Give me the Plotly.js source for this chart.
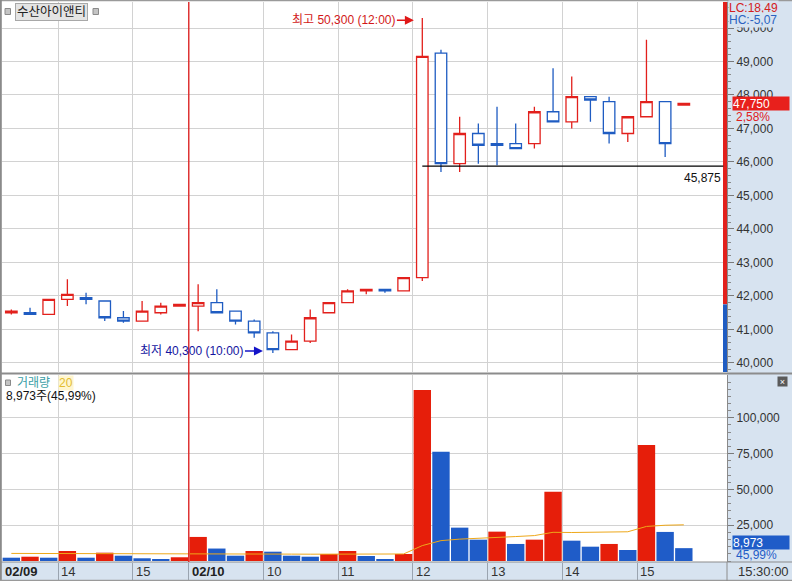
<!DOCTYPE html>
<html><head><meta charset="utf-8">
<script src="https://cdn.plot.ly/plotly-3.0.1.min.js"></script>
<style>html,body{margin:0;padding:0;background:#fff}#chart{width:792px;height:581px}</style>
</head><body><div id="chart"></div>
<script>
// ---------- data ----------
const stockName = '수산아이앤티';
const days = ['02/09', '02/10'];
const dayStartIdx = [0, 10];
const times = ['13:15','13:30','13:45','14:00','14:15','14:30','14:45','15:00','15:15','15:30',
  '09:00','09:15','09:30','09:45','10:00','10:15','10:30','10:45','11:00','11:15','11:30','11:45',
  '12:00','12:15','12:30','12:45','13:00','13:15','13:30','13:45','14:00','14:15','14:30','14:45',
  '15:00','15:15','15:30'];
const openP  = [41500,41500,41450,41900,41950,41850,41350,41250,41500,41700,
  41700,41800,41550,41250,40900,40400,40650,41500,41800,42150,42200,42150,
  42550,49250,45950,46850,46550,46550,46550,47500,47200,47950,47800,46850,47350,47800,47700];
const highP  = [41600,41650,41900,42500,42100,41850,41550,41850,41800,41750,
  42350,42200,41550,41300,40950,40850,41600,41800,42200,42200,42200,42550,
  50300,49350,47350,47150,47650,47150,47650,48800,48550,47950,47950,47350,49650,47800,47750];
const lowP   = [41450,41450,41450,41700,41750,41250,41200,41250,41450,41700,
  40950,41500,41150,40750,40300,40400,40600,41500,41800,42050,42100,42150,
  42450,45700,45700,45950,45900,46400,46400,47200,47000,47200,46550,46600,47350,46150,47700];
const closeP = [41550,41450,41900,42050,41900,41350,41250,41550,41700,41750,
  41800,41500,41250,40900,40400,40650,41350,41800,42150,42200,42150,42550,
  49150,45950,46850,46500,46500,46400,47500,47200,47950,47850,46850,47350,47800,46550,47750];
const volume = [2300,3000,2300,7000,2300,5800,3700,1900,1400,2600,
  16800,8700,3700,7000,6500,3700,3000,4900,7000,3500,1400,4900,
  119400,76300,23300,14900,20500,11900,14900,48400,14200,10000,11900,7700,81000,20300,8973];
const volMA20 = [5300,5300,5250,5300,5200,5200,5100,5000,4900,4850,
  5000,5000,4900,4900,4850,4800,4750,4800,4850,4855,4810,4905,
  10760,14225,15275,15730,16570,17070,17745,20035,19905,19970,20380,20415,24140,24970,25269];
const priceTicks = [40000,41000,42000,43000,44000,45000,46000,47000,48000,49000,50000];
const volTicks = [25000,50000,75000,100000];
const dayHigh = {price: 50300, time: '12:00'};
const dayLow = {price: 40300, time: '10:00'};
const refLine = 45875;
const lastPrice = 47750, lastChangePct = '2,58%';
const lcText = 'LC:18,49', hcText = 'HC:-5,07';
const lastVol = '8,973', volPct = '45,99%';
const volLegend = '8,973주(45,99%)';
const maPeriod = '20';
const endTime = '15:30:00';

// ---------- geometry helpers ----------
const W = 792, H = 581, ML = 2, MR = 65, MT = 2, MB = 19;
const PW = W - ML - MR, PH = H - MT - MB;
const px = v => (v - ML) / PW;
const py = v => (H - MB - v) / PH;
const RED = '#e2201c', BLUE = '#1f5cc2', AXBG = '#d7e3f0';
const FONT = 'Liberation Sans, Noto Sans CJK KR, sans-serif';
const idx = times.map((t, i) => i);
const prevClose = closeP[dayStartIdx[1] - 1];

// x tick positions: day starts and full hours
const xTickPos = [], xTickText = [], xTickBold = [];
times.forEach((t, i) => {
  const d = dayStartIdx.indexOf(i);
  if (d >= 0) { xTickPos.push(i - 0.5); xTickText.push(days[d]); xTickBold.push(true); }
  else if (t.endsWith(':00')) { xTickPos.push(i - 0.5); xTickText.push(String(parseInt(t, 10))); xTickBold.push(false); }
});
const sepTicks = xTickPos.filter(v => v > 0);

const volColors = volume.map((v, i) => (i > 0 && v > volume[i - 1]) ? '#e61e0a' : '#1f5cc8');
const xMax = -0.5 + PW / 18.68;
const yTop = 50776, yBot = 39731;

const traces = [
  {type: 'candlestick', x: idx, open: openP, high: highP, low: lowP, close: closeP,
   xaxis: 'x', yaxis: 'y', whiskerwidth: 0, hoverinfo: 'skip',
   increasing: {line: {color: RED, width: 1.3}, fillcolor: '#ffffff'},
   decreasing: {line: {color: BLUE, width: 1.3}, fillcolor: '#ffffff'}},
  {type: 'bar', x: idx, y: volume, xaxis: 'x', yaxis: 'y2',
   marker: {color: volColors, line: {width: 0}}, hoverinfo: 'skip'},
  {type: 'scatter', mode: 'lines', x: idx, y: volMA20, xaxis: 'x', yaxis: 'y2',
   line: {color: '#eea81a', width: 1}, hoverinfo: 'skip'}
];

const shapes = [
  // axis-area backgrounds
  {type: 'rect', xref: 'paper', yref: 'paper', x0: 1, x1: px(W + 2), y0: py(H + 2), y1: py(-2), fillcolor: AXBG, line: {width: 0}, layer: 'below'},
  {type: 'rect', xref: 'paper', yref: 'paper', x0: px(-2), x1: 1, y0: py(H + 2), y1: 0, fillcolor: AXBG, line: {width: 0}, layer: 'below'},
  // borders
  {type: 'line', xref: 'paper', yref: 'paper', x0: px(0), x1: px(W), y0: py(0.5), y1: py(0.5), line: {color: '#9a9a9a', width: 1.5}},
  {type: 'line', xref: 'paper', yref: 'paper', x0: px(0.8), x1: px(0.8), y0: py(0), y1: py(H), line: {color: '#8a8a8a', width: 2}},
  {type: 'line', xref: 'paper', yref: 'paper', x0: px(0), x1: px(W), y0: py(H - 0.5), y1: py(H - 0.5), line: {color: '#9a9a9a', width: 1.5}},
  {type: 'line', xref: 'paper', yref: 'paper', x0: px(0), x1: px(W), y0: py(373.5), y1: py(373.5), line: {color: '#8c8c8c', width: 2}},
  {type: 'line', xref: 'paper', yref: 'paper', x0: px(0), x1: px(W), y0: 0, y1: 0, line: {color: '#8c8c8c', width: 1.2}},
  {type: 'line', xref: 'paper', yref: 'paper', x0: 1, x1: 1, y0: py(H), y1: 0, line: {color: '#8c8c8c', width: 1}},
  // previous-close indicator bar
  {type: 'rect', xref: 'paper', yref: 'y', x0: px(723), x1: 1, y0: prevClose, y1: yTop, fillcolor: RED, line: {width: 0}},
  {type: 'rect', xref: 'paper', yref: 'y', x0: px(723), x1: 1, y0: yBot, y1: prevClose, fillcolor: BLUE, line: {width: 0}},
  // day separator
  {type: 'line', xref: 'x', yref: 'paper', x0: dayStartIdx[1] - 0.5, x1: dayStartIdx[1] - 0.5, y0: 0, y1: 1, line: {color: '#e01a1a', width: 1.3}},
  // reference line
  {type: 'line', xref: 'x', yref: 'y', x0: times.indexOf(dayHigh.time), x1: xMax - 0.2, y0: refLine, y1: refLine, line: {color: '#000', width: 1.3}},
  // small squares
  {type: 'rect', xref: 'paper', yref: 'paper', x0: px(5), x1: px(10.5), y0: py(14.5), y1: py(8.5), fillcolor: '#c4c4c4', line: {color: '#8a8a8a', width: 1}},
  {type: 'rect', xref: 'paper', yref: 'paper', x0: px(93), x1: px(98.5), y0: py(14.5), y1: py(8.5), fillcolor: '#c4c4c4', line: {color: '#8a8a8a', width: 1}},
  {type: 'rect', xref: 'paper', yref: 'paper', x0: px(5.5), x1: px(10.5), y0: py(385.5), y1: py(380), fillcolor: '#c4c4c4', line: {color: '#8a8a8a', width: 1}}
];

const annotations = [];
xTickPos.forEach((p, k) => {
  annotations.push({xref: 'x', yref: 'paper', x: p, y: py(571.5), xanchor: 'left', yanchor: 'middle', xshift: 1,
    text: xTickBold[k] ? '<b>' + xTickText[k] + '</b>' : xTickText[k], showarrow: false,
    font: {size: 13, color: xTickBold[k] ? '#222' : '#333', family: FONT}});
});
annotations.push(
  {xref: 'paper', yref: 'paper', x: px(763), y: py(571.5), xanchor: 'center', yanchor: 'middle', text: endTime, showarrow: false, font: {size: 13, color: '#333'}},
  {xref: 'paper', yref: 'paper', x: px(15), y: py(12), xanchor: 'left', yanchor: 'middle', text: stockName, showarrow: false,
   bgcolor: '#e4e4e4', bordercolor: '#a8a8a8', borderwidth: 1, borderpad: 1, font: {size: 12.5, color: '#222'}},
  // high / low markers
  {xref: 'x', yref: 'y', x: times.indexOf(dayHigh.time) - 0.45, y: 50230, ax: -70, ay: 0,
   text: '최고 ' + dayHigh.price.toLocaleString('en-US') + ' (' + dayHigh.time + ')', showarrow: true,
   arrowhead: 2, arrowsize: 1.2, arrowwidth: 1.5, arrowcolor: '#e01818', standoff: 0, font: {size: 12, color: '#d21818'}},
  {xref: 'x', yref: 'y', x: times.indexOf(dayLow.time) - 0.53, y: 40358, ax: -71, ay: 0,
   text: '최저 ' + dayLow.price.toLocaleString('en-US') + ' (' + dayLow.time + ')', showarrow: true,
   arrowhead: 2, arrowsize: 1.2, arrowwidth: 1.5, arrowcolor: '#1414c8', standoff: 0, font: {size: 12, color: '#1414a0'}},
  {xref: 'paper', yref: 'y', x: px(723), y: refLine, xanchor: 'right', yanchor: 'top', yshift: -3,
   text: refLine.toLocaleString('en-US'), showarrow: false, font: {size: 12, color: '#111'}},
  // right axis overlays
  {xref: 'paper', yref: 'paper', x: px(728), y: py(8), xanchor: 'left', yanchor: 'middle', text: lcText, showarrow: false,
   bgcolor: AXBG, borderpad: 0, font: {size: 12, color: '#d42020'}},
  {xref: 'paper', yref: 'paper', x: px(728), y: py(20.5), xanchor: 'left', yanchor: 'middle', text: hcText, showarrow: false,
   bgcolor: AXBG, borderpad: 0, font: {size: 12, color: '#2a62c0'}},
  {xref: 'paper', yref: 'y', x: px(732), y: lastPrice, xanchor: 'left', yanchor: 'middle', text: lastPrice.toLocaleString('en-US'),
   showarrow: false, bgcolor: '#e8201c', width: 56, height: 13, align: 'left', borderpad: 0, font: {size: 12, color: '#fff'}},
  {xref: 'paper', yref: 'paper', x: px(734), y: py(116.5), xanchor: 'left', yanchor: 'middle', text: lastChangePct, showarrow: false,
   font: {size: 12, color: '#e02020'}},
  {xref: 'paper', yref: 'paper', x: px(732), y: py(542), xanchor: 'left', yanchor: 'middle', text: lastVol,
   showarrow: false, bgcolor: '#1f5cc8', width: 56, height: 13, align: 'left', borderpad: 0, font: {size: 12, color: '#fff'}},
  {xref: 'paper', yref: 'paper', x: px(734), y: py(555), xanchor: 'left', yanchor: 'middle', text: volPct, showarrow: false,
   font: {size: 12, color: '#1f5cc8'}},
  // volume legend
  {xref: 'paper', yref: 'paper', x: px(15), y: py(383), xanchor: 'left', yanchor: 'middle', text: '거래량', showarrow: false,
   font: {size: 12, color: '#3a9ea6'}},
  {xref: 'paper', yref: 'paper', x: px(58), y: py(383), xanchor: 'left', yanchor: 'middle', text: maPeriod, showarrow: false,
   bgcolor: '#fff6cf', borderpad: 0, font: {size: 12, color: '#e2bc30'}},
  {xref: 'paper', yref: 'paper', x: px(4), y: py(396), xanchor: 'left', yanchor: 'middle', text: volLegend, showarrow: false,
   font: {size: 12, color: '#111'}},
  {xref: 'paper', yref: 'paper', x: px(782), y: py(381), xanchor: 'center', yanchor: 'middle', text: '×', showarrow: false,
   bgcolor: '#5a5a5a', borderpad: 0, width: 9, height: 9, font: {size: 9, color: '#fff'}}
);

const layout = {
  width: W, height: H, margin: {l: ML, r: MR, t: MT, b: MB, pad: 0},
  paper_bgcolor: '#ffffff', plot_bgcolor: '#ffffff', showlegend: false,
  font: {family: FONT, size: 12, color: '#333'},
  bargap: 0.07, boxgap: 0.12,
  xaxis: {range: [-0.5, xMax], anchor: 'y2', tickmode: 'array', tickvals: sepTicks, showticklabels: false,
    ticks: 'outside', ticklen: 18, tickcolor: '#9aa4b0', tickwidth: 1,
    showgrid: true, gridcolor: '#d2d2d2', gridwidth: 1, zeroline: false, showline: false,
    rangeslider: {visible: false}, fixedrange: true},
  yaxis: {domain: [py(372), 1], range: [yBot, yTop], side: 'right', anchor: 'x',
    tickmode: 'array', tickvals: priceTicks, tickformat: ',d', ticks: 'outside', ticklen: 6, tickcolor: '#7a7a7a',
    minor: {tickmode: 'linear', tick0: 0, dtick: 200, ticks: 'outside', ticklen: 3, tickcolor: '#8a8a8a', showgrid: false},
    showgrid: true, gridcolor: '#d2d2d2', zeroline: false, showline: true, linecolor: '#8a8a8a', linewidth: 1,
    tickfont: {size: 12, color: '#333'}, fixedrange: true},
  yaxis2: {domain: [0, py(375)], range: [-700, 129900], side: 'right', anchor: 'x',
    tickmode: 'array', tickvals: volTicks, tickformat: ',d', ticks: 'outside', ticklen: 6, tickcolor: '#7a7a7a',
    minor: {tickmode: 'linear', tick0: 0, dtick: 5000, ticks: 'outside', ticklen: 3, tickcolor: '#8a8a8a', showgrid: false},
    showgrid: true, gridcolor: '#d2d2d2', zeroline: false, showline: true, linecolor: '#8a8a8a', linewidth: 1,
    tickfont: {size: 12, color: '#333'}, fixedrange: true},
  shapes: shapes, annotations: annotations
};

Plotly.newPlot('chart', traces, layout, {staticPlot: true, displayModeBar: false});
</script>
</body></html>
